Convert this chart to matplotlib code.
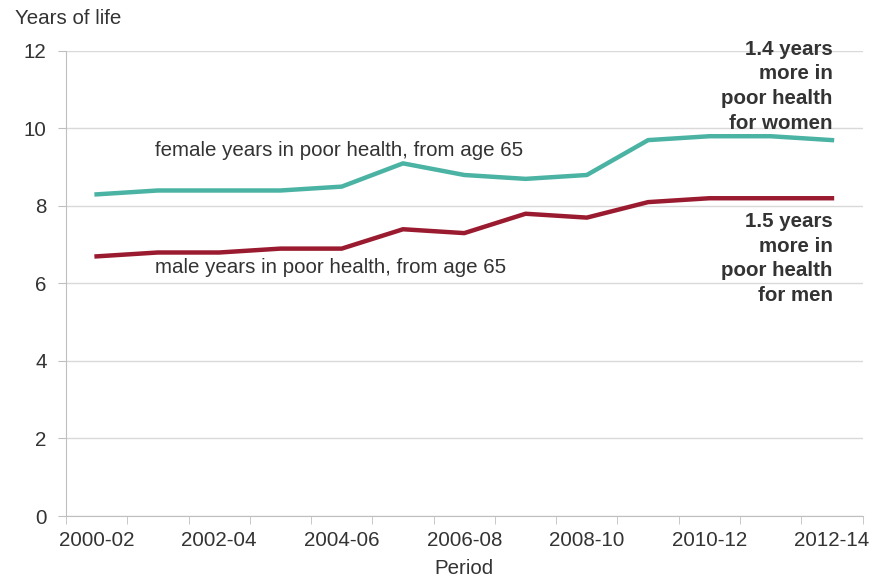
import matplotlib
matplotlib.use("Agg")
import matplotlib.pyplot as plt
import numpy as np

plt.rcParams['font.family'] = ['Liberation Sans', 'DejaVu Sans']

periods = ["2000-02", "2001-03", "2002-04", "2003-05", "2004-06", "2005-07", "2006-08",
           "2007-09", "2008-10", "2009-11", "2010-12", "2011-13", "2012-14"]
female = [8.3, 8.4, 8.4, 8.4, 8.5, 9.1, 8.8, 8.7, 8.8, 9.7, 9.8, 9.8, 9.7]
male = [6.7, 6.8, 6.8, 6.9, 6.9, 7.4, 7.3, 7.8, 7.7, 8.1, 8.2, 8.2, 8.2]
yticks = [0, 2, 4, 6, 8, 10, 12]

teal = "#4BB3A3"
red = "#9A1B2F"
grid_c = "#D9D9D9"
text_c = "#333333"
fs = 14.8

fig = plt.figure(figsize=(8.82, 5.82), dpi=100)
ax = fig.add_axes([0.0748, 0.1134, 0.9032, 0.799])

x = np.arange(len(periods))
ax.plot(x, female, color=teal, lw=3.2, solid_joinstyle='round', zorder=3)
ax.plot(x, male, color=red, lw=3.2, solid_joinstyle='round', zorder=3)

ax.set_xlim(-0.5, len(periods) - 0.5)
ax.set_ylim(0, 12)
ax.set_yticks(yticks)
ax.set_yticklabels([str(v) for v in yticks])
ax.yaxis.grid(True, color=grid_c, lw=1)
ax.set_axisbelow(True)

ax.set_xticks(x[::2])
ax.set_xticklabels(periods[::2])
ax.set_xticks(np.arange(-0.5, len(periods), 1.0), minor=True)
ax.tick_params(axis='x', which='major', length=0, pad=11, labelsize=fs, colors=text_c)
ax.tick_params(axis='x', which='minor', length=6, color="#BFBFBF", direction='out')
ax.tick_params(axis='y', which='major', length=6, color="#BFBFBF", pad=8, labelsize=fs, colors=text_c)

for s in ['top', 'right']:
    ax.spines[s].set_visible(False)
ax.spines['left'].set_color("#BFBFBF")
ax.spines['bottom'].set_color("#BFBFBF")

ax.set_xlabel("Period", fontsize=fs, color=text_c, labelpad=6)
fig.text(15 / 882, 1 - 18 / 582, "Years of life", fontsize=fs, color=text_c, va='center', ha='left')

ax.text(0.95, 9.42, "female years in poor health, from age 65", fontsize=fs, color=text_c,
        ha='left', va='center')
ax.text(0.95, 6.4, "male years in poor health, from age 65", fontsize=fs, color=text_c,
        ha='left', va='center')

ax.text(12.01, 12.29, "1.4 years\nmore in\npoor health\nfor women", fontsize=fs, fontweight='bold',
        color=text_c, ha='right', va='top', linespacing=1.38)
ax.text(12.01, 7.85, "1.5 years\nmore in\npoor health\nfor men", fontsize=fs, fontweight='bold',
        color=text_c, ha='right', va='top', linespacing=1.38)

fig.savefig("out.png", dpi=100)
